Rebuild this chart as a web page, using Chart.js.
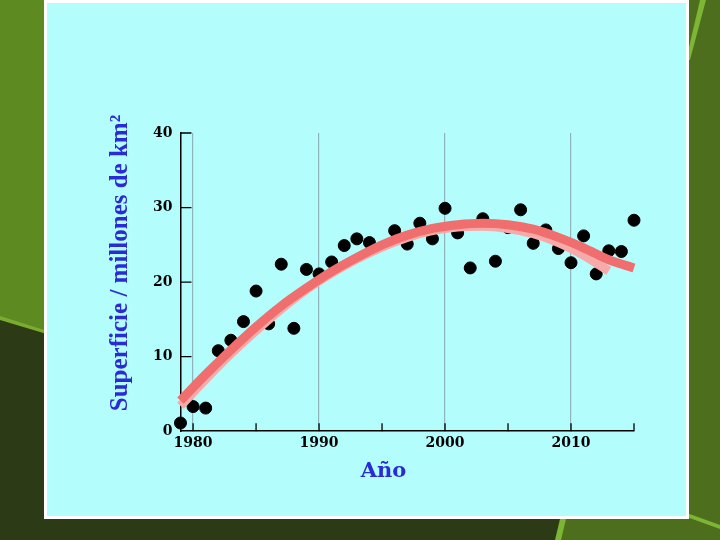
<!DOCTYPE html>
<html>
<head>
<meta charset="utf-8">
<script src="https://cdn.jsdelivr.net/npm/chart.js@4/dist/chart.umd.min.js"></script>
<style>
  html, body { margin: 0; padding: 0; }
  body {
    width: 720px; height: 540px; overflow: hidden; position: relative;
    background: #2c3a16;
  }
  .bg { position: absolute; left: 0; top: 0; width: 720px; height: 540px; }
  #bgLeft { background: #5e8a22; clip-path: polygon(0 0, 60px 0, 60px 337px, 0 318px); }
  #bgLeftEdge { background: #7aac30; clip-path: polygon(0 316px, 60px 335px, 60px 338px, 0 320px); }
  #bgRight { background: #4d6e1d; clip-path: polygon(560px 0, 720px 0, 720px 540px, 556px 540px, 566px 505px); }
  #bgStripe { background: #7db534; clip-path: polygon(700px 0, 706px 0, 690px 60px, 686px 60px); }
  #bgStripe2 { background: #7db534; clip-path: polygon(560px 519px, 566px 519px, 561px 540px, 555px 540px); }
  #bgStripe3 { background: #7db534; clip-path: polygon(684px 512px, 720px 525px, 720px 529px, 684px 516px); }
  #panel {
    position: absolute; left: 44px; top: 0; width: 639px; height: 513px;
    background: #b3fdfd; border: 3px solid #ffffff;
  }
  #wrap { position: absolute; left: 0; top: 0; width: 720px; height: 540px; }
</style>
</head>
<body>
<div class="bg" id="bgLeft"></div>
<div class="bg" id="bgLeftEdge"></div>
<div class="bg" id="bgRight"></div>
<div class="bg" id="bgStripe"></div>
<div class="bg" id="bgStripe2"></div>
<div class="bg" id="bgStripe3"></div>
<div id="panel"></div>
<div id="wrap"><canvas id="chart_cv" width="720" height="540"></canvas></div>
<script>
// datos --- (*1)
const years = [1979, 1980, 1981, 1982, 1983, 1984, 1985, 1986, 1987, 1988, 1989, 1990,
  1991, 1992, 1993, 1994, 1996, 1997, 1998, 1999, 2000, 2001, 2002, 2003, 2004,
  2005, 2006, 2007, 2008, 2009, 2010, 2011, 2012, 2013, 2014, 2015];
const area = [1.1, 3.3, 3.1, 10.8, 12.2, 14.7, 18.8, 14.4, 22.4, 13.8, 21.7, 21.1,
  22.7, 24.9, 25.8, 25.3, 26.9, 25.1, 27.9, 25.8, 29.9, 26.6, 21.9, 28.5, 22.8,
  27.3, 29.7, 25.2, 27.0, 24.5, 22.6, 26.2, 21.1, 24.2, 24.1, 28.3];

// curva roja (hasta 2015)
const fitYears = [1979, 1981, 1983, 1985, 1987, 1989, 1991, 1993, 1995, 1997,
  1999, 2001, 2003, 2005, 2007, 2009, 2011, 2013, 2015];
const fitRed = [4.1, 7.6, 10.9, 14.0, 16.8, 19.2, 21.4, 23.3, 25.0, 26.3,
  27.2, 27.7, 27.9, 27.7, 27.1, 26.0, 24.6, 23.0, 21.9];

// curva rosa (hasta 2013)
const pinkYears = [1979, 1981, 1983, 1985, 1987, 1989, 1991, 1993, 1995, 1997,
  1999, 2001, 2003, 2005, 2007, 2009, 2011, 2013];
const fitPink = [3.4, 7.0, 10.4, 13.5, 16.4, 19.0, 21.2, 23.1, 24.7, 26.0,
  26.9, 27.4, 27.5, 27.2, 26.5, 25.3, 23.6, 21.5];

const yTicks = [0, 10, 20, 30, 40];
const xTicks = [1980, 1985, 1990, 1995, 2000, 2005, 2010, 2015];
const xLabels = [1980, 1990, 2000, 2010];

const toXY = (xs, ys) => xs.map((x, i) => ({ x: x, y: ys[i] }));

// marcas interiores de los ejes y títulos --- (*2)
const axisExtras = {
  id: 'axisExtras',
  afterDatasetsDraw(chart) {
    const c = chart.ctx;
    const xs = chart.scales.x, ys = chart.scales.y;
    const a = chart.chartArea;
    c.save();
    c.strokeStyle = '#000';
    c.lineWidth = 1.3;
    c.beginPath();
    xTicks.forEach(v => {
      const px = xs.getPixelForValue(v);
      c.moveTo(px, a.bottom);
      c.lineTo(px, a.bottom - 8);
    });
    yTicks.forEach(v => {
      if (v === 0) return;
      const py = ys.getPixelForValue(v);
      c.moveTo(a.left, py);
      c.lineTo(a.left + 11, py);
    });
    c.stroke();

    // títulos
    c.fillStyle = '#2b2bd6';
    c.font = 'bold 21px "DejaVu Serif"';
    c.textAlign = 'center';
    c.textBaseline = 'middle';
    c.fillText('Año', a.left + 203, a.bottom + 40);

    c.translate(a.left - 60, a.top + 130);
    c.rotate(-Math.PI / 2);
    c.font = 'bold 25px "Liberation Serif"';
    c.fillText('Superficie / millones de km²', 0, 0);
    c.restore();
  }
};

const ctx = document.getElementById('chart_cv');
const chart_cv = new Chart(ctx, {
  data: {
    datasets: [
      {
        type: 'line',
        data: toXY(fitYears, fitRed),
        borderColor: '#f06e6e',
        borderWidth: 9,
        cubicInterpolationMode: 'monotone',
        pointRadius: 0,
        fill: false,
        clip: false,
        order: 0
      },
      {
        type: 'line',
        data: toXY(pinkYears, fitPink),
        borderColor: '#f7aaaa',
        borderWidth: 9,
        cubicInterpolationMode: 'monotone',
        pointRadius: 0,
        fill: false,
        clip: false,
        order: 1
      },
      {
        type: 'scatter',
        data: toXY(years, area),
        backgroundColor: '#000',
        borderColor: '#000',
        pointRadius: 6,
        clip: false,
        order: 2
      }
    ]
  },
  options: {
    responsive: false,
    animation: false,
    layout: { padding: { left: 145, right: 86, top: 133, bottom: 84 } },
    plugins: { legend: { display: false }, tooltip: { enabled: false } },
    scales: {
      x: {
        type: 'linear',
        min: 1979,
        max: 2015,
        afterBuildTicks: s => { s.ticks = xTicks.map(v => ({ value: v })); },
        ticks: {
          autoSkip: false,
          maxRotation: 0,
          padding: 4,
          color: '#000',
          font: { family: '"DejaVu Serif"', weight: 'bold', size: 14 },
          callback: v => xLabels.includes(v) ? String(v) : ''
        },
        grid: {
          drawTicks: false,
          color: c => (c.tick && xLabels.includes(c.tick.value)) ? '#8eb4bc' : 'rgba(0,0,0,0)',
          lineWidth: 1.2
        },
        border: { color: '#000', width: 1.5 }
      },
      y: {
        min: 0,
        max: 40,
        afterBuildTicks: s => { s.ticks = yTicks.map(v => ({ value: v })); },
        ticks: {
          padding: 8,
          color: '#000',
          font: { family: '"DejaVu Serif"', weight: 'bold', size: 14 }
        },
        grid: { drawOnChartArea: false, drawTicks: false },
        border: { color: '#000', width: 1.5 }
      }
    }
  },
  plugins: [axisExtras]
});
</script>
</body>
</html>
